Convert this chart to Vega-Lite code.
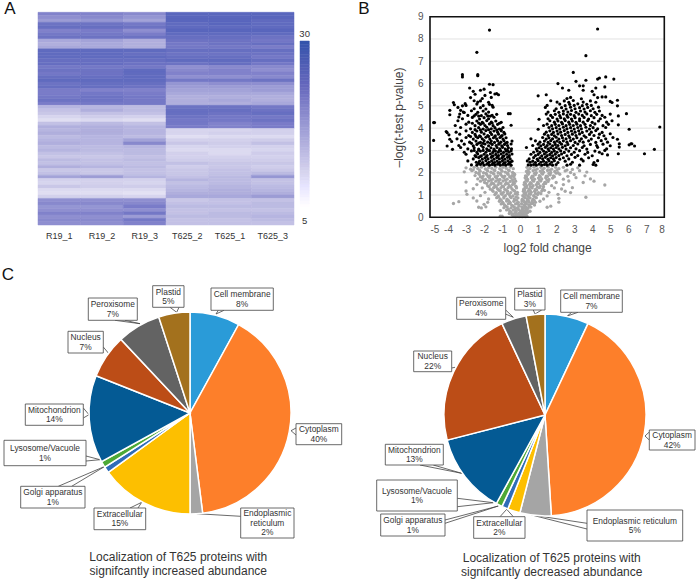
{"$schema":"https://vega.github.io/schema/vega-lite/v6.json","width":696,"height":583,"autosize":"none","padding":0,"background":"white","config":{"view":{"stroke":null},"font":"Liberation Sans"},
"resolve":{"scale":{"x":"independent","y":"independent","color":"independent","stroke":"independent","theta":"independent"},"axis":{"x":"independent","y":"independent"}},
"datasets":{
"heat":[
{"s":"R19_1","r":1,"v":22},{"s":"R19_2","r":1,"v":22},{"s":"R19_3","r":1,"v":21},{"s":"T625_2","r":1,"v":28},{"s":"T625_1","r":1,"v":28},{"s":"T625_3","r":1,"v":28},
{"s":"R19_1","r":2,"v":20},{"s":"R19_2","r":2,"v":21},{"s":"R19_3","r":2,"v":19},{"s":"T625_2","r":2,"v":28},{"s":"T625_1","r":2,"v":28},{"s":"T625_3","r":2,"v":28},
{"s":"R19_1","r":3,"v":18},{"s":"R19_2","r":3,"v":19},{"s":"R19_3","r":3,"v":17},{"s":"T625_2","r":3,"v":28},{"s":"T625_1","r":3,"v":28},{"s":"T625_3","r":3,"v":27},
{"s":"R19_1","r":4,"v":25},{"s":"R19_2","r":4,"v":25},{"s":"R19_3","r":4,"v":24},{"s":"T625_2","r":4,"v":27},{"s":"T625_1","r":4,"v":28},{"s":"T625_3","r":4,"v":27},
{"s":"R19_1","r":5,"v":26},{"s":"R19_2","r":5,"v":26},{"s":"R19_3","r":5,"v":25},{"s":"T625_2","r":5,"v":27},{"s":"T625_1","r":5,"v":27},{"s":"T625_3","r":5,"v":27},
{"s":"R19_1","r":6,"v":22},{"s":"R19_2","r":6,"v":23},{"s":"R19_3","r":6,"v":20},{"s":"T625_2","r":6,"v":28},{"s":"T625_1","r":6,"v":28},{"s":"T625_3","r":6,"v":28},
{"s":"R19_1","r":7,"v":24},{"s":"R19_2","r":7,"v":24},{"s":"R19_3","r":7,"v":23},{"s":"T625_2","r":7,"v":27},{"s":"T625_1","r":7,"v":27},{"s":"T625_3","r":7,"v":27},
{"s":"R19_1","r":8,"v":25},{"s":"R19_2","r":8,"v":25},{"s":"R19_3","r":8,"v":25},{"s":"T625_2","r":8,"v":26},{"s":"T625_1","r":8,"v":26},{"s":"T625_3","r":8,"v":25},
{"s":"R19_1","r":9,"v":16},{"s":"R19_2","r":9,"v":17},{"s":"R19_3","r":9,"v":15},{"s":"T625_2","r":9,"v":25},{"s":"T625_1","r":9,"v":25},{"s":"T625_3","r":9,"v":24},
{"s":"R19_1","r":10,"v":15},{"s":"R19_2","r":10,"v":16},{"s":"R19_3","r":10,"v":15},{"s":"T625_2","r":10,"v":24},{"s":"T625_1","r":10,"v":25},{"s":"T625_3","r":10,"v":26},
{"s":"R19_1","r":11,"v":16},{"s":"R19_2","r":11,"v":16},{"s":"R19_3","r":11,"v":15},{"s":"T625_2","r":11,"v":24},{"s":"T625_1","r":11,"v":24},{"s":"T625_3","r":11,"v":23},
{"s":"R19_1","r":12,"v":27},{"s":"R19_2","r":12,"v":27},{"s":"R19_3","r":12,"v":27},{"s":"T625_2","r":12,"v":26},{"s":"T625_1","r":12,"v":26},{"s":"T625_3","r":12,"v":26},
{"s":"R19_1","r":13,"v":27},{"s":"R19_2","r":13,"v":27},{"s":"R19_3","r":13,"v":26},{"s":"T625_2","r":13,"v":25},{"s":"T625_1","r":13,"v":25},{"s":"T625_3","r":13,"v":25},
{"s":"R19_1","r":14,"v":27},{"s":"R19_2","r":14,"v":27},{"s":"R19_3","r":14,"v":27},{"s":"T625_2","r":14,"v":26},{"s":"T625_1","r":14,"v":26},{"s":"T625_3","r":14,"v":24},
{"s":"R19_1","r":15,"v":26},{"s":"R19_2","r":15,"v":26},{"s":"R19_3","r":15,"v":26},{"s":"T625_2","r":15,"v":27},{"s":"T625_1","r":15,"v":27},{"s":"T625_3","r":15,"v":26},
{"s":"R19_1","r":16,"v":26},{"s":"R19_2","r":16,"v":26},{"s":"R19_3","r":16,"v":25},{"s":"T625_2","r":16,"v":25},{"s":"T625_1","r":16,"v":26},{"s":"T625_3","r":16,"v":24},
{"s":"R19_1","r":17,"v":24},{"s":"R19_2","r":17,"v":24},{"s":"R19_3","r":17,"v":24},{"s":"T625_2","r":17,"v":20},{"s":"T625_1","r":17,"v":21},{"s":"T625_3","r":17,"v":21},
{"s":"R19_1","r":18,"v":25},{"s":"R19_2","r":18,"v":25},{"s":"R19_3","r":18,"v":27},{"s":"T625_2","r":18,"v":21},{"s":"T625_1","r":18,"v":22},{"s":"T625_3","r":18,"v":20},
{"s":"R19_1","r":19,"v":24},{"s":"R19_2","r":19,"v":25},{"s":"R19_3","r":19,"v":27},{"s":"T625_2","r":19,"v":22},{"s":"T625_1","r":19,"v":22},{"s":"T625_3","r":19,"v":22},
{"s":"R19_1","r":20,"v":26},{"s":"R19_2","r":20,"v":26},{"s":"R19_3","r":20,"v":27},{"s":"T625_2","r":20,"v":20},{"s":"T625_1","r":20,"v":20},{"s":"T625_3","r":20,"v":21},
{"s":"R19_1","r":21,"v":27},{"s":"R19_2","r":21,"v":27},{"s":"R19_3","r":21,"v":27},{"s":"T625_2","r":21,"v":24},{"s":"T625_1","r":21,"v":24},{"s":"T625_3","r":21,"v":25},
{"s":"R19_1","r":22,"v":25},{"s":"R19_2","r":22,"v":26},{"s":"R19_3","r":22,"v":26},{"s":"T625_2","r":22,"v":19},{"s":"T625_1","r":22,"v":20},{"s":"T625_3","r":22,"v":20},
{"s":"R19_1","r":23,"v":26},{"s":"R19_2","r":23,"v":26},{"s":"R19_3","r":23,"v":25},{"s":"T625_2","r":23,"v":18},{"s":"T625_1","r":23,"v":18},{"s":"T625_3","r":23,"v":18},
{"s":"R19_1","r":24,"v":23},{"s":"R19_2","r":24,"v":22},{"s":"R19_3","r":24,"v":22},{"s":"T625_2","r":24,"v":17},{"s":"T625_1","r":24,"v":17},{"s":"T625_3","r":24,"v":18},
{"s":"R19_1","r":25,"v":23},{"s":"R19_2","r":25,"v":24},{"s":"R19_3","r":25,"v":23},{"s":"T625_2","r":25,"v":16},{"s":"T625_1","r":25,"v":16},{"s":"T625_3","r":25,"v":16},
{"s":"R19_1","r":26,"v":24},{"s":"R19_2","r":26,"v":25},{"s":"R19_3","r":26,"v":24},{"s":"T625_2","r":26,"v":15},{"s":"T625_1","r":26,"v":15},{"s":"T625_3","r":26,"v":15},
{"s":"R19_1","r":27,"v":25},{"s":"R19_2","r":27,"v":25},{"s":"R19_3","r":27,"v":24},{"s":"T625_2","r":27,"v":15},{"s":"T625_1","r":27,"v":16},{"s":"T625_3","r":27,"v":15},
{"s":"R19_1","r":28,"v":23},{"s":"R19_2","r":28,"v":24},{"s":"R19_3","r":28,"v":24},{"s":"T625_2","r":28,"v":15},{"s":"T625_1","r":28,"v":15},{"s":"T625_3","r":28,"v":16},
{"s":"R19_1","r":29,"v":14},{"s":"R19_2","r":29,"v":14},{"s":"R19_3","r":29,"v":13},{"s":"T625_2","r":29,"v":25},{"s":"T625_1","r":29,"v":25},{"s":"T625_3","r":29,"v":24},
{"s":"R19_1","r":30,"v":12},{"s":"R19_2","r":30,"v":15},{"s":"R19_3","r":30,"v":13},{"s":"T625_2","r":30,"v":26},{"s":"T625_1","r":30,"v":26},{"s":"T625_3","r":30,"v":25},
{"s":"R19_1","r":31,"v":11},{"s":"R19_2","r":31,"v":12},{"s":"R19_3","r":31,"v":12},{"s":"T625_2","r":31,"v":26},{"s":"T625_1","r":31,"v":25},{"s":"T625_3","r":31,"v":26},
{"s":"R19_1","r":32,"v":8},{"s":"R19_2","r":32,"v":10},{"s":"R19_3","r":32,"v":9},{"s":"T625_2","r":32,"v":25},{"s":"T625_1","r":32,"v":24},{"s":"T625_3","r":32,"v":24},
{"s":"R19_1","r":33,"v":6},{"s":"R19_2","r":33,"v":7},{"s":"R19_3","r":33,"v":6},{"s":"T625_2","r":33,"v":24},{"s":"T625_1","r":33,"v":24},{"s":"T625_3","r":33,"v":25},
{"s":"R19_1","r":34,"v":12},{"s":"R19_2","r":34,"v":13},{"s":"R19_3","r":34,"v":12},{"s":"T625_2","r":34,"v":24},{"s":"T625_1","r":34,"v":22},{"s":"T625_3","r":34,"v":23},
{"s":"R19_1","r":35,"v":15},{"s":"R19_2","r":35,"v":15},{"s":"R19_3","r":35,"v":14},{"s":"T625_2","r":35,"v":23},{"s":"T625_1","r":35,"v":22},{"s":"T625_3","r":35,"v":23},
{"s":"R19_1","r":36,"v":14},{"s":"R19_2","r":36,"v":15},{"s":"R19_3","r":36,"v":14},{"s":"T625_2","r":36,"v":8},{"s":"T625_1","r":36,"v":8},{"s":"T625_3","r":36,"v":9},
{"s":"R19_1","r":37,"v":15},{"s":"R19_2","r":37,"v":15},{"s":"R19_3","r":37,"v":14},{"s":"T625_2","r":37,"v":8},{"s":"T625_1","r":37,"v":9},{"s":"T625_3","r":37,"v":9},
{"s":"R19_1","r":38,"v":13},{"s":"R19_2","r":38,"v":14},{"s":"R19_3","r":38,"v":13},{"s":"T625_2","r":38,"v":6},{"s":"T625_1","r":38,"v":7},{"s":"T625_3","r":38,"v":7},
{"s":"R19_1","r":39,"v":14},{"s":"R19_2","r":39,"v":14},{"s":"R19_3","r":39,"v":17},{"s":"T625_2","r":39,"v":9},{"s":"T625_1","r":39,"v":9},{"s":"T625_3","r":39,"v":10},
{"s":"R19_1","r":40,"v":15},{"s":"R19_2","r":40,"v":14},{"s":"R19_3","r":40,"v":21},{"s":"T625_2","r":40,"v":11},{"s":"T625_1","r":40,"v":10},{"s":"T625_3","r":40,"v":12},
{"s":"R19_1","r":41,"v":13},{"s":"R19_2","r":41,"v":13},{"s":"R19_3","r":41,"v":14},{"s":"T625_2","r":41,"v":8},{"s":"T625_1","r":41,"v":9},{"s":"T625_3","r":41,"v":9},
{"s":"R19_1","r":42,"v":14},{"s":"R19_2","r":42,"v":13},{"s":"R19_3","r":42,"v":13},{"s":"T625_2","r":42,"v":7},{"s":"T625_1","r":42,"v":7},{"s":"T625_3","r":42,"v":8},
{"s":"R19_1","r":43,"v":12},{"s":"R19_2","r":43,"v":12},{"s":"R19_3","r":43,"v":13},{"s":"T625_2","r":43,"v":9},{"s":"T625_1","r":43,"v":7},{"s":"T625_3","r":43,"v":10},
{"s":"R19_1","r":44,"v":11},{"s":"R19_2","r":44,"v":11},{"s":"R19_3","r":44,"v":12},{"s":"T625_2","r":44,"v":9},{"s":"T625_1","r":44,"v":9},{"s":"T625_3","r":44,"v":9},
{"s":"R19_1","r":45,"v":13},{"s":"R19_2","r":45,"v":12},{"s":"R19_3","r":45,"v":13},{"s":"T625_2","r":45,"v":10},{"s":"T625_1","r":45,"v":10},{"s":"T625_3","r":45,"v":10},
{"s":"R19_1","r":46,"v":12},{"s":"R19_2","r":46,"v":12},{"s":"R19_3","r":46,"v":12},{"s":"T625_2","r":46,"v":12},{"s":"T625_1","r":46,"v":11},{"s":"T625_3","r":46,"v":11},
{"s":"R19_1","r":47,"v":15},{"s":"R19_2","r":47,"v":14},{"s":"R19_3","r":47,"v":13},{"s":"T625_2","r":47,"v":10},{"s":"T625_1","r":47,"v":11},{"s":"T625_3","r":47,"v":10},
{"s":"R19_1","r":48,"v":11},{"s":"R19_2","r":48,"v":11},{"s":"R19_3","r":48,"v":12},{"s":"T625_2","r":48,"v":11},{"s":"T625_1","r":48,"v":12},{"s":"T625_3","r":48,"v":11},
{"s":"R19_1","r":49,"v":12},{"s":"R19_2","r":49,"v":11},{"s":"R19_3","r":49,"v":12},{"s":"T625_2","r":49,"v":11},{"s":"T625_1","r":49,"v":12},{"s":"T625_3","r":49,"v":13},
{"s":"R19_1","r":50,"v":17},{"s":"R19_2","r":50,"v":18},{"s":"R19_3","r":50,"v":14},{"s":"T625_2","r":50,"v":12},{"s":"T625_1","r":50,"v":13},{"s":"T625_3","r":50,"v":19},
{"s":"R19_1","r":51,"v":9},{"s":"R19_2","r":51,"v":9},{"s":"R19_3","r":51,"v":9},{"s":"T625_2","r":51,"v":14},{"s":"T625_1","r":51,"v":13},{"s":"T625_3","r":51,"v":12},
{"s":"R19_1","r":52,"v":8},{"s":"R19_2","r":52,"v":9},{"s":"R19_3","r":52,"v":8},{"s":"T625_2","r":52,"v":12},{"s":"T625_1","r":52,"v":13},{"s":"T625_3","r":52,"v":12},
{"s":"R19_1","r":53,"v":11},{"s":"R19_2","r":53,"v":10},{"s":"R19_3","r":53,"v":10},{"s":"T625_2","r":53,"v":13},{"s":"T625_1","r":53,"v":14},{"s":"T625_3","r":53,"v":13},
{"s":"R19_1","r":54,"v":7},{"s":"R19_2","r":54,"v":7},{"s":"R19_3","r":54,"v":7},{"s":"T625_2","r":54,"v":14},{"s":"T625_1","r":54,"v":15},{"s":"T625_3","r":54,"v":14},
{"s":"R19_1","r":55,"v":6},{"s":"R19_2","r":55,"v":6},{"s":"R19_3","r":55,"v":5},{"s":"T625_2","r":55,"v":15},{"s":"T625_1","r":55,"v":15},{"s":"T625_3","r":55,"v":15},
{"s":"R19_1","r":56,"v":9},{"s":"R19_2","r":56,"v":9},{"s":"R19_3","r":56,"v":8},{"s":"T625_2","r":56,"v":16},{"s":"T625_1","r":56,"v":16},{"s":"T625_3","r":56,"v":18},
{"s":"R19_1","r":57,"v":20},{"s":"R19_2","r":57,"v":20},{"s":"R19_3","r":57,"v":20},{"s":"T625_2","r":57,"v":11},{"s":"T625_1","r":57,"v":12},{"s":"T625_3","r":57,"v":12},
{"s":"R19_1","r":58,"v":21},{"s":"R19_2","r":58,"v":21},{"s":"R19_3","r":58,"v":21},{"s":"T625_2","r":58,"v":12},{"s":"T625_1","r":58,"v":12},{"s":"T625_3","r":58,"v":13},
{"s":"R19_1","r":59,"v":19},{"s":"R19_2","r":59,"v":19},{"s":"R19_3","r":59,"v":23},{"s":"T625_2","r":59,"v":13},{"s":"T625_1","r":59,"v":13},{"s":"T625_3","r":59,"v":13},
{"s":"R19_1","r":60,"v":20},{"s":"R19_2","r":60,"v":20},{"s":"R19_3","r":60,"v":20},{"s":"T625_2","r":60,"v":12},{"s":"T625_1","r":60,"v":12},{"s":"T625_3","r":60,"v":12},
{"s":"R19_1","r":61,"v":22},{"s":"R19_2","r":61,"v":22},{"s":"R19_3","r":61,"v":24},{"s":"T625_2","r":61,"v":12},{"s":"T625_1","r":61,"v":13},{"s":"T625_3","r":61,"v":13},
{"s":"R19_1","r":62,"v":20},{"s":"R19_2","r":62,"v":20},{"s":"R19_3","r":62,"v":18},{"s":"T625_2","r":62,"v":13},{"s":"T625_1","r":62,"v":13},{"s":"T625_3","r":62,"v":14},
{"s":"R19_1","r":63,"v":21},{"s":"R19_2","r":63,"v":21},{"s":"R19_3","r":63,"v":24},{"s":"T625_2","r":63,"v":12},{"s":"T625_1","r":63,"v":12},{"s":"T625_3","r":63,"v":13},
{"s":"R19_1","r":64,"v":20},{"s":"R19_2","r":64,"v":20},{"s":"R19_3","r":64,"v":22},{"s":"T625_2","r":64,"v":12},{"s":"T625_1","r":64,"v":12},{"s":"T625_3","r":64,"v":12}
],
"bar":[{"v":5,"w":5.5},{"v":5.5,"w":6},{"v":6,"w":6.5},{"v":6.5,"w":7},{"v":7,"w":7.5},{"v":7.5,"w":8},{"v":8,"w":8.5},{"v":8.5,"w":9},{"v":9,"w":9.5},{"v":9.5,"w":10},{"v":10,"w":10.5},{"v":10.5,"w":11},{"v":11,"w":11.5},{"v":11.5,"w":12},{"v":12,"w":12.5},{"v":12.5,"w":13},{"v":13,"w":13.5},{"v":13.5,"w":14},{"v":14,"w":14.5},{"v":14.5,"w":15},{"v":15,"w":15.5},{"v":15.5,"w":16},{"v":16,"w":16.5},{"v":16.5,"w":17},{"v":17,"w":17.5},{"v":17.5,"w":18},{"v":18,"w":18.5},{"v":18.5,"w":19},{"v":19,"w":19.5},{"v":19.5,"w":20},{"v":20,"w":20.5},{"v":20.5,"w":21},{"v":21,"w":21.5},{"v":21.5,"w":22},{"v":22,"w":22.5},{"v":22.5,"w":23},{"v":23,"w":23.5},{"v":23.5,"w":24},{"v":24,"w":24.5},{"v":24.5,"w":25},{"v":25,"w":25.5},{"v":25.5,"w":26},{"v":26,"w":26.5},{"v":26.5,"w":27},{"v":27,"w":27.5},{"v":27.5,"w":28},{"v":28,"w":28.5},{"v":28.5,"w":29},{"v":29,"w":29.5},{"v":29.5,"w":30}],
"up":[{"n":"Cell membrane","p":8,"o":1},{"n":"Cytoplasm","p":40,"o":2},{"n":"Endoplasmic reticulum","p":2,"o":3},{"n":"Extracellular","p":15,"o":4},{"n":"Golgi apparatus","p":1,"o":5},{"n":"Lysosome/Vacuole","p":1,"o":6},{"n":"Mitochondrion","p":14,"o":7},{"n":"Nucleus","p":7,"o":8},{"n":"Peroxisome","p":7,"o":9},{"n":"Plastid","p":5,"o":10}],
"down":[{"n":"Cell membrane","p":7,"o":1},{"n":"Cytoplasm","p":42,"o":2},{"n":"Endoplasmic reticulum","p":5,"o":3},{"n":"Extracellular","p":2,"o":4},{"n":"Golgi apparatus","p":1,"o":5},{"n":"Lysosome/Vacuole","p":1,"o":6},{"n":"Mitochondrion","p":13,"o":7},{"n":"Nucleus","p":22,"o":8},{"n":"Peroxisome","p":4,"o":9},{"n":"Plastid","p":3,"o":10}],
"upBox":[{"t":"Cell membrane\n8%","a":0.21,"b":0.833,"c":1.25,"d":1.027},{"t":"Cytoplasm\n40%","a":1.06,"b":1.517,"c":-0.107,"d":-0.317},{"t":"Endoplasmic\nreticulum\n2%","a":0.507,"b":1.04,"c":-0.95,"d":-1.25},{"t":"Extracellular\n15%","a":-0.96,"b":-0.443,"c":-0.95,"d":-1.167},{"t":"Golgi apparatus\n1%","a":-1.693,"b":-1.05,"c":-0.733,"d":-0.95},{"t":"Lysosome/Vacuole\n1%","a":-1.86,"b":-1.04,"c":-0.273,"d":-0.527},{"t":"Mitochondrion\n14%","a":-1.647,"b":-1.067,"c":0.09,"d":-0.123},{"t":"Nucleus\n7%","a":-1.22,"b":-0.867,"c":0.817,"d":0.6},{"t":"Peroxisome\n7%","a":-1.017,"b":-0.527,"c":1.15,"d":0.927},{"t":"Plastid\n5%","a":-0.373,"b":-0.06,"c":1.273,"d":1.057}],
"downBox":[{"t":"Cell membrane\n7%","a":0.157,"b":0.773,"c":1.25,"d":1.027},{"t":"Cytoplasm\n42%","a":1.043,"b":1.5,"c":-0.15,"d":-0.35},{"t":"Endoplasmic reticulum\n5%","a":0.42,"b":1.377,"c":-0.95,"d":-1.26},{"t":"Extracellular\n2%","a":-0.713,"b":-0.2,"c":-1.017,"d":-1.233},{"t":"Golgi apparatus\n1%","a":-1.643,"b":-1.0,"c":-0.99,"d":-1.21},{"t":"Lysosome/Vacuole\n1%","a":-1.683,"b":-0.877,"c":-0.65,"d":-0.96},{"t":"Mitochondrion\n13%","a":-1.597,"b":-1.017,"c":-0.293,"d":-0.5},{"t":"Nucleus\n22%","a":-1.313,"b":-0.933,"c":0.64,"d":0.433},{"t":"Peroxisome\n4%","a":-0.883,"b":-0.393,"c":1.177,"d":0.957},{"t":"Plastid\n3%","a":-0.303,"b":0,"c":1.267,"d":1.05}],
"upLead":[{"a":0.283,"c":1.027,"b":0.26,"d":0.99},{"a":0.34,"c":1.027,"b":0.26,"d":0.99},{"a":1.06,"c":-0.15,"b":1.01,"d":-0.177},{"a":1.06,"c":-0.22,"b":1.01,"d":-0.177},{"a":0.507,"c":-1.033,"b":0.067,"d":-1.007},{"a":-0.52,"c":-0.95,"b":-0.483,"d":-0.893},{"a":-0.6,"c":-0.95,"b":-0.483,"d":-0.893},{"a":-1.317,"c":-0.733,"b":-0.85,"d":-0.533},{"a":-1.183,"c":-0.733,"b":-0.85,"d":-0.533},{"a":-1.04,"c":-0.48,"b":-0.9,"d":-0.467},{"a":-1.04,"c":-0.43,"b":-0.9,"d":-0.467},{"a":-1.067,"c":0.05,"b":-1.01,"d":-0.017},{"a":-1.067,"c":-0.05,"b":-1.01,"d":-0.017},{"a":-0.867,"c":0.66,"b":-0.817,"d":0.6},{"a":-0.75,"c":0.927,"b":-0.5,"d":0.893},{"a":-0.65,"c":0.927,"b":-0.5,"d":0.893},{"a":-0.2,"c":1.057,"b":-0.133,"d":1.007},{"a":-0.11,"c":1.057,"b":-0.133,"d":1.007}],
"downLead":[{"a":0.267,"c":1.027,"b":0.223,"d":0.99},{"a":0.33,"c":1.027,"b":0.223,"d":0.99},{"a":1.043,"c":-0.17,"b":1.0,"d":-0.21},{"a":1.043,"c":-0.25,"b":1.0,"d":-0.21},{"a":0.42,"c":-1.083,"b":-0.133,"d":-1.0},{"a":0.42,"c":-1.14,"b":-0.133,"d":-1.0},{"a":-0.45,"c":-1.017,"b":-0.383,"d":-0.943},{"a":-0.317,"c":-1.017,"b":-0.383,"d":-0.943},{"a":-1.0,"c":-1.05,"b":-0.467,"d":-0.91},{"a":-1.0,"c":-1.083,"b":-0.467,"d":-0.91},{"a":-0.877,"c":-0.833,"b":-0.517,"d":-0.877},{"a":-0.877,"c":-0.917,"b":-0.517,"d":-0.877},{"a":-1.117,"c":-0.5,"b":-0.833,"d":-0.583},{"a":-1.25,"c":-0.5,"b":-0.833,"d":-0.583},{"a":-0.933,"c":0.47,"b":-0.9,"d":0.477},{"a":-0.49,"c":1.05,"b":-0.317,"d":0.977},{"a":-0.393,"c":1.05,"b":-0.317,"d":0.977},{"a":-0.117,"c":1.05,"b":-0.1,"d":1.01},{"a":-0.033,"c":1.05,"b":-0.1,"d":1.01}],
"gray":[{"x":-2.6,"y":2.13},{"x":-2.25,"y":2.12},{"x":-1.85,"y":2.13},{"x":-1.45,"y":2.12},{"x":-1.05,"y":2.13},{"x":-0.65,"y":2.12},{"x":0.45,"y":2.13},{"x":0.85,"y":2.12},{"x":1.25,"y":2.13},{"x":1.65,"y":2.12},{"x":2.05,"y":2.13},{"x":2.6,"y":2.12},{"x":-2.3,"y":1.98},{"x":-1.9,"y":1.97},{"x":-1.5,"y":1.98},{"x":-1.1,"y":1.97},{"x":-0.7,"y":1.98},{"x":-0.35,"y":1.97},{"x":0.42,"y":1.98},{"x":0.8,"y":1.97},{"x":1.2,"y":1.98},{"x":1.6,"y":1.97},{"x":2,"y":1.98},{"x":-2.2,"y":1.82},{"x":-1.78,"y":1.83},{"x":-1.38,"y":1.82},{"x":-0.98,"y":1.83},{"x":-0.58,"y":1.82},{"x":-0.35,"y":1.83},{"x":0.36,"y":1.82},{"x":0.72,"y":1.83},{"x":1.12,"y":1.82},{"x":1.52,"y":1.83},{"x":1.9,"y":1.82},{"x":-2.05,"y":1.68},{"x":-1.62,"y":1.67},{"x":-1.22,"y":1.68},{"x":-0.82,"y":1.67},{"x":-0.42,"y":1.68},{"x":0.33,"y":1.67},{"x":0.68,"y":1.68},{"x":1.08,"y":1.67},{"x":1.48,"y":1.68},{"x":-1.85,"y":1.52},{"x":-1.47,"y":1.51},{"x":-1.07,"y":1.52},{"x":-0.67,"y":1.51},{"x":-0.32,"y":1.52},{"x":0.3,"y":1.51},{"x":0.62,"y":1.52},{"x":1.02,"y":1.51},{"x":1.42,"y":1.52},{"x":-1.72,"y":1.37},{"x":-1.32,"y":1.36},{"x":-0.92,"y":1.37},{"x":-0.52,"y":1.36},{"x":-0.22,"y":1.37},{"x":0.28,"y":1.36},{"x":0.58,"y":1.37},{"x":0.95,"y":1.36},{"x":1.3,"y":1.37},{"x":-1.55,"y":1.22},{"x":-1.17,"y":1.21},{"x":-0.77,"y":1.22},{"x":-0.37,"y":1.21},{"x":0.25,"y":1.22},{"x":0.55,"y":1.21},{"x":0.92,"y":1.22},{"x":1.35,"y":1.21},{"x":-1.35,"y":1.07},{"x":-1.05,"y":1.06},{"x":-0.7,"y":1.07},{"x":-0.27,"y":1.06},{"x":0.23,"y":1.07},{"x":0.5,"y":1.06},{"x":0.85,"y":1.07},{"x":1.15,"y":1.06},{"x":-1.2,"y":0.93},{"x":-0.9,"y":0.92},{"x":-0.55,"y":0.93},{"x":-0.22,"y":0.92},{"x":0.2,"y":0.93},{"x":0.48,"y":0.92},{"x":0.8,"y":0.93},{"x":-1.05,"y":0.77},{"x":-0.65,"y":0.76},{"x":-0.2,"y":0.77},{"x":0.18,"y":0.76},{"x":0.45,"y":0.77},{"x":0.78,"y":0.76},{"x":-0.95,"y":0.63},{"x":-0.55,"y":0.64},{"x":-0.15,"y":0.63},{"x":0.3,"y":0.64},{"x":0.7,"y":0.63},{"x":-0.8,"y":0.5},{"x":-0.4,"y":0.51},{"x":-0.05,"y":0.5},{"x":0.25,"y":0.51},{"x":0.52,"y":0.5},{"x":-0.65,"y":0.37},{"x":-0.28,"y":0.38},{"x":-0.12,"y":0.37},{"x":0.12,"y":0.38},{"x":0.35,"y":0.37},{"x":-0.5,"y":0.22},{"x":-0.25,"y":0.23},{"x":0,"y":0.22},{"x":0.2,"y":0.23},{"x":0.42,"y":0.22},{"x":-0.45,"y":0.1},{"x":-0.2,"y":0.11},{"x":0,"y":0.1},{"x":0.1,"y":0.11},{"x":0.3,"y":0.1},
{"x":-3,"y":2.22},{"x":-2.75,"y":2.16},{"x":-2.55,"y":2.24},{"x":-2.35,"y":2.19},{"x":-2.15,"y":2.25},{"x":-1.93,"y":2.17},{"x":-1.75,"y":2.23},{"x":-1.57,"y":2.2},{"x":-1.35,"y":2.25},{"x":-1.13,"y":2.18},{"x":-0.95,"y":2.24},{"x":-0.77,"y":2.2},{"x":-0.55,"y":2.25},{"x":-0.38,"y":2.18},{"x":0.38,"y":2.24},{"x":0.55,"y":2.19},{"x":0.77,"y":2.25},{"x":0.95,"y":2.17},{"x":1.15,"y":2.24},{"x":1.33,"y":2.2},{"x":1.55,"y":2.25},{"x":1.75,"y":2.16},{"x":1.97,"y":2.24},{"x":2.15,"y":2.18},{"x":2.4,"y":2.24},{"x":2.9,"y":2.15},{"x":3.2,"y":2.22},
{"x":-3.1,"y":2.04},{"x":-2.68,"y":2.09},{"x":-2.45,"y":2.01},{"x":-2.22,"y":2.07},{"x":-2.03,"y":2},{"x":-1.8,"y":2.08},{"x":-1.62,"y":2.02},{"x":-1.4,"y":2.1},{"x":-1.22,"y":2},{"x":-1,"y":2.07},{"x":-0.82,"y":2.03},{"x":-0.6,"y":2.09},{"x":-0.42,"y":2.01},{"x":0.35,"y":2.06},{"x":0.5,"y":2.02},{"x":0.72,"y":2.09},{"x":0.9,"y":2},{"x":1.12,"y":2.07},{"x":1.3,"y":2.02},{"x":1.52,"y":2.1},{"x":1.7,"y":2.01},{"x":1.92,"y":2.06},{"x":2.1,"y":2},{"x":2.5,"y":2.08},{"x":2.8,"y":2.01},{"x":3.3,"y":2.09},{"x":3.7,"y":2.03},
{"x":-2.5,"y":1.87},{"x":-2.27,"y":1.93},{"x":-2.05,"y":1.85},{"x":-1.85,"y":1.92},{"x":-1.67,"y":1.86},{"x":-1.45,"y":1.94},{"x":-1.25,"y":1.86},{"x":-1.07,"y":1.91},{"x":-0.85,"y":1.85},{"x":-0.67,"y":1.93},{"x":-0.45,"y":1.87},{"x":-0.3,"y":1.92},{"x":0.3,"y":1.86},{"x":0.45,"y":1.93},{"x":0.67,"y":1.85},{"x":0.85,"y":1.92},{"x":1.07,"y":1.87},{"x":1.25,"y":1.94},{"x":1.45,"y":1.85},{"x":1.67,"y":1.91},{"x":1.85,"y":1.86},{"x":2.2,"y":1.93},{"x":2.65,"y":1.84},{"x":3,"y":1.92},{"x":3.6,"y":1.86},
{"x":-2.35,"y":1.72},{"x":-2.1,"y":1.77},{"x":-1.92,"y":1.7},{"x":-1.7,"y":1.78},{"x":-1.52,"y":1.71},{"x":-1.3,"y":1.76},{"x":-1.12,"y":1.7},{"x":-0.9,"y":1.78},{"x":-0.72,"y":1.71},{"x":-0.5,"y":1.77},{"x":-0.3,"y":1.72},{"x":0.28,"y":1.77},{"x":0.42,"y":1.7},{"x":0.62,"y":1.78},{"x":0.8,"y":1.71},{"x":1.02,"y":1.76},{"x":1.2,"y":1.72},{"x":1.42,"y":1.78},{"x":1.6,"y":1.7},{"x":1.8,"y":1.76},{"x":2.4,"y":1.71},{"x":3.1,"y":1.78},{"x":3.9,"y":1.72},
{"x":-3,"y":1.58},{"x":-2.2,"y":1.62},{"x":-1.97,"y":1.56},{"x":-1.75,"y":1.63},{"x":-1.57,"y":1.55},{"x":-1.35,"y":1.62},{"x":-1.17,"y":1.57},{"x":-0.95,"y":1.63},{"x":-0.77,"y":1.55},{"x":-0.55,"y":1.61},{"x":-0.38,"y":1.56},{"x":-0.25,"y":1.62},{"x":0.25,"y":1.57},{"x":0.4,"y":1.63},{"x":0.57,"y":1.55},{"x":0.75,"y":1.62},{"x":0.97,"y":1.56},{"x":1.15,"y":1.63},{"x":1.37,"y":1.57},{"x":1.55,"y":1.61},{"x":2,"y":1.56},{"x":2.7,"y":1.63},{"x":3.5,"y":1.56},{"x":4.1,"y":1.62},
{"x":-2.4,"y":1.47},{"x":-1.8,"y":1.41},{"x":-1.62,"y":1.48},{"x":-1.4,"y":1.42},{"x":-1.22,"y":1.47},{"x":-1,"y":1.4},{"x":-0.82,"y":1.48},{"x":-0.6,"y":1.42},{"x":-0.42,"y":1.47},{"x":-0.25,"y":1.4},{"x":0.22,"y":1.47},{"x":0.38,"y":1.41},{"x":0.52,"y":1.48},{"x":0.72,"y":1.42},{"x":0.9,"y":1.47},{"x":1.12,"y":1.4},{"x":1.3,"y":1.48},{"x":1.75,"y":1.42},{"x":2.4,"y":1.47},{"x":4.7,"y":1.45},
{"x":-2.6,"y":1.28},{"x":-2.1,"y":1.32},{"x":-1.65,"y":1.26},{"x":-1.47,"y":1.33},{"x":-1.25,"y":1.27},{"x":-1.07,"y":1.32},{"x":-0.85,"y":1.25},{"x":-0.67,"y":1.33},{"x":-0.45,"y":1.27},{"x":-0.2,"y":1.32},{"x":0.2,"y":1.26},{"x":0.35,"y":1.33},{"x":0.5,"y":1.27},{"x":0.67,"y":1.32},{"x":0.85,"y":1.25},{"x":1.07,"y":1.33},{"x":1.25,"y":1.27},{"x":1.9,"y":1.32},{"x":2.3,"y":1.27},{"x":2.9,"y":1.33},
{"x":-3,"y":1.18},{"x":-1.95,"y":1.12},{"x":-1.5,"y":1.17},{"x":-1.32,"y":1.11},{"x":-1.1,"y":1.18},{"x":-0.92,"y":1.12},{"x":-0.7,"y":1.17},{"x":-0.52,"y":1.11},{"x":-0.3,"y":1.18},{"x":-0.15,"y":1.12},{"x":0.18,"y":1.17},{"x":0.32,"y":1.11},{"x":0.45,"y":1.18},{"x":0.62,"y":1.12},{"x":0.8,"y":1.17},{"x":1.02,"y":1.11},{"x":1.2,"y":1.18},{"x":1.6,"y":1.12},{"x":2.5,"y":1.17},{"x":2.8,"y":1.11},
{"x":-2.95,"y":1.03},{"x":-2.2,"y":0.97},{"x":-1.4,"y":1.02},{"x":-1.22,"y":0.96},{"x":-1,"y":1.03},{"x":-0.82,"y":0.97},{"x":-0.6,"y":1.02},{"x":-0.4,"y":0.96},{"x":-0.15,"y":1.03},{"x":0.15,"y":0.97},{"x":0.3,"y":1.02},{"x":0.42,"y":0.96},{"x":0.57,"y":1.03},{"x":0.75,"y":0.97},{"x":0.97,"y":1.02},{"x":1.5,"y":0.96},{"x":2.1,"y":1.03},
{"x":-2.6,"y":0.87},{"x":-1.75,"y":0.82},{"x":-1.3,"y":0.88},{"x":-1.12,"y":0.82},{"x":-0.9,"y":0.87},{"x":-0.72,"y":0.81},{"x":-0.5,"y":0.88},{"x":-0.32,"y":0.82},{"x":-0.12,"y":0.87},{"x":0.12,"y":0.81},{"x":0.28,"y":0.88},{"x":0.4,"y":0.82},{"x":0.55,"y":0.87},{"x":0.72,"y":0.81},{"x":0.9,"y":0.88},{"x":1.3,"y":0.82},{"x":3.65,"y":0.9},{"x":2.15,"y":0.85},
{"x":-3.4,"y":0.7},{"x":-2.4,"y":0.73},{"x":-1.8,"y":0.67},{"x":-1.15,"y":0.72},{"x":-0.97,"y":0.67},{"x":-0.75,"y":0.73},{"x":-0.57,"y":0.68},{"x":-0.35,"y":0.72},{"x":-0.1,"y":0.67},{"x":0.1,"y":0.73},{"x":0.25,"y":0.67},{"x":0.38,"y":0.72},{"x":0.5,"y":0.68},{"x":0.67,"y":0.73},{"x":0.85,"y":0.67},{"x":1.1,"y":0.72},{"x":2.15,"y":0.68},
{"x":-3.7,"y":0.62},{"x":-2,"y":0.58},{"x":-1.05,"y":0.6},{"x":-0.87,"y":0.56},{"x":-0.65,"y":0.61},{"x":-0.47,"y":0.55},{"x":-0.25,"y":0.6},{"x":-0.08,"y":0.56},{"x":0.08,"y":0.61},{"x":0.22,"y":0.55},{"x":0.35,"y":0.6},{"x":0.48,"y":0.56},{"x":0.62,"y":0.61},{"x":0.8,"y":0.55},
{"x":-2.3,"y":0.45},{"x":-2.15,"y":0.42},{"x":-1.9,"y":0.47},{"x":-0.9,"y":0.43},{"x":-0.72,"y":0.47},{"x":-0.5,"y":0.42},{"x":-0.32,"y":0.46},{"x":-0.15,"y":0.42},{"x":0.1,"y":0.47},{"x":0.2,"y":0.41},{"x":0.32,"y":0.46},{"x":0.45,"y":0.42},{"x":0.6,"y":0.46},{"x":1.5,"y":0.45},{"x":1.7,"y":0.5},
{"x":-1.1,"y":0.3},{"x":-0.75,"y":0.33},{"x":-0.57,"y":0.27},{"x":-0.38,"y":0.32},{"x":-0.22,"y":0.27},{"x":-0.06,"y":0.33},{"x":0.06,"y":0.27},{"x":0.18,"y":0.32},{"x":0.28,"y":0.27},{"x":0.4,"y":0.33},{"x":0.55,"y":0.27},
{"x":-0.6,"y":0.17},{"x":-0.42,"y":0.13},{"x":-0.3,"y":0.18},{"x":-0.18,"y":0.12},{"x":-0.08,"y":0.17},{"x":0.05,"y":0.13},{"x":0.15,"y":0.18},{"x":0.25,"y":0.12},{"x":0.35,"y":0.17},
{"x":-1.1,"y":0.05},{"x":-1,"y":0.05},{"x":-0.35,"y":0.05},{"x":-0.25,"y":0.03},{"x":-0.15,"y":0.06},{"x":-0.05,"y":0.03},{"x":0.03,"y":0.06},{"x":0.12,"y":0.03},{"x":0.2,"y":0.06},{"x":0.3,"y":0.03},{"x":0.38,"y":0.05}],
"black":[{"x":-2.3,"y":2.42},{"x":-2.1,"y":2.43},{"x":-1.8,"y":2.42},{"x":-1.5,"y":2.43},{"x":-1.2,"y":2.42},{"x":-0.9,"y":2.43},{"x":-0.6,"y":2.42},{"x":-2.45,"y":2.72},{"x":-2.2,"y":2.73},{"x":-1.87,"y":2.72},{"x":-1.55,"y":2.73},{"x":-1.25,"y":2.72},{"x":-0.95,"y":2.73},{"x":-0.62,"y":2.72},{"x":-2.55,"y":3},{"x":-2.3,"y":3.01},{"x":-2.05,"y":3},{"x":-1.8,"y":3.01},{"x":-1.45,"y":3},{"x":-1.15,"y":3.01},{"x":-0.7,"y":3},{"x":-2.7,"y":3.32},{"x":-2.3,"y":3.33},{"x":-2.05,"y":3.32},{"x":-1.65,"y":3.33},{"x":-1.15,"y":3.32},{"x":-0.8,"y":3.33},{"x":-2.75,"y":3.62},{"x":-2.45,"y":3.63},{"x":-2.2,"y":3.62},{"x":-1.75,"y":3.63},{"x":-1.4,"y":3.62},{"x":-1.05,"y":3.63},{"x":-2.5,"y":3.93},{"x":-2.2,"y":3.92},{"x":-1.75,"y":3.93},{"x":-1.3,"y":3.92},{"x":-1.05,"y":3.93},{"x":-2.65,"y":4.22},{"x":-2.3,"y":4.23},{"x":-2.05,"y":4.22},{"x":-1.55,"y":4.23},{"x":-1.15,"y":4.22},{"x":-2.55,"y":4.55},{"x":-2.3,"y":4.54},{"x":-1.8,"y":4.55},{"x":-1.65,"y":4.54},
{"x":-1.7,"y":8.4},{"x":-2.4,"y":7.4},{"x":-3.2,"y":6.4},{"x":-3.2,"y":6.3},{"x":-2.35,"y":6.4},{"x":-2.35,"y":6.35},{"x":-1.7,"y":5.97},{"x":-1.5,"y":5.95},{"x":-2.8,"y":5.8},{"x":-2,"y":5.75},{"x":-2.6,"y":5.65},{"x":-2.2,"y":5.7},{"x":-1.65,"y":5.6},{"x":-1.3,"y":5.55},{"x":-1.2,"y":5.5},
{"x":-4.75,"y":4.25},{"x":-4.8,"y":4.25},{"x":-4.8,"y":3.45},{"x":-4.1,"y":3.85},{"x":-4.05,"y":3.8},{"x":-3.95,"y":3.7},{"x":-3.9,"y":3.5},{"x":-4.05,"y":3.2},{"x":-3.8,"y":3.4},{"x":-3.75,"y":3.05},{"x":-3.7,"y":5.15},{"x":-3.65,"y":5.05},{"x":-3.9,"y":4.8},{"x":-3.9,"y":4.6},{"x":-3.4,"y":4.5},{"x":-3.2,"y":5},{"x":-3.05,"y":5.1},{"x":-3.3,"y":4.8},{"x":-3.1,"y":4.7},
{"x":-2.7,"y":2.35},{"x":-2.4,"y":2.34},{"x":-2.2,"y":2.37},{"x":-2,"y":2.34},{"x":-1.85,"y":2.38},{"x":-1.7,"y":2.34},{"x":-1.55,"y":2.37},{"x":-1.4,"y":2.34},{"x":-1.25,"y":2.38},{"x":-1.1,"y":2.34},{"x":-0.95,"y":2.37},{"x":-0.8,"y":2.34},{"x":-0.65,"y":2.38},{"x":-0.5,"y":2.34},
{"x":-2.9,"y":2.53},{"x":-2.43,"y":2.47},{"x":-2.25,"y":2.52},{"x":-2.07,"y":2.46},{"x":-1.9,"y":2.54},{"x":-1.72,"y":2.47},{"x":-1.58,"y":2.53},{"x":-1.42,"y":2.46},{"x":-1.28,"y":2.52},{"x":-1.12,"y":2.47},{"x":-0.98,"y":2.54},{"x":-0.83,"y":2.46},{"x":-0.68,"y":2.53},{"x":-0.55,"y":2.47},{"x":-0.45,"y":2.52},
{"x":-2.6,"y":2.62},{"x":-2.3,"y":2.68},{"x":-2.1,"y":2.61},{"x":-1.95,"y":2.67},{"x":-1.78,"y":2.62},{"x":-1.6,"y":2.69},{"x":-1.45,"y":2.61},{"x":-1.3,"y":2.68},{"x":-1.15,"y":2.62},{"x":-1,"y":2.67},{"x":-0.85,"y":2.61},{"x":-0.7,"y":2.69},{"x":-0.55,"y":2.62},
{"x":-3,"y":2.83},{"x":-2.5,"y":2.77},{"x":-2.35,"y":2.84},{"x":-2.15,"y":2.76},{"x":-2,"y":2.83},{"x":-1.83,"y":2.77},{"x":-1.65,"y":2.84},{"x":-1.5,"y":2.76},{"x":-1.35,"y":2.82},{"x":-1.2,"y":2.77},{"x":-1.05,"y":2.84},{"x":-0.9,"y":2.76},{"x":-0.75,"y":2.83},{"x":-0.6,"y":2.77},{"x":-0.45,"y":2.84},
{"x":-3.1,"y":2.92},{"x":-2.7,"y":2.98},{"x":-2.4,"y":2.91},{"x":-2.2,"y":2.97},{"x":-1.9,"y":2.92},{"x":-1.7,"y":2.99},{"x":-1.52,"y":2.91},{"x":-1.37,"y":2.97},{"x":-1.22,"y":2.92},{"x":-1.08,"y":2.98},{"x":-0.92,"y":2.91},{"x":-0.78,"y":2.97},{"x":-0.62,"y":2.92},{"x":-0.5,"y":2.99},
{"x":-3.3,"y":3.13},{"x":-2.9,"y":3.07},{"x":-2.55,"y":3.12},{"x":-2.3,"y":3.06},{"x":-2.05,"y":3.14},{"x":-1.85,"y":3.07},{"x":-1.62,"y":3.12},{"x":-1.45,"y":3.06},{"x":-1.28,"y":3.13},{"x":-1.12,"y":3.07},{"x":-0.97,"y":3.14},{"x":-0.82,"y":3.06},{"x":-0.65,"y":3.12},{"x":-0.48,"y":3.07},
{"x":-3.4,"y":3.22},{"x":-3.1,"y":3.28},{"x":-2.6,"y":3.21},{"x":-2.4,"y":3.27},{"x":-2.15,"y":3.22},{"x":-1.95,"y":3.29},{"x":-1.75,"y":3.21},{"x":-1.55,"y":3.27},{"x":-1.33,"y":3.22},{"x":-1.18,"y":3.28},{"x":-1.02,"y":3.21},{"x":-0.87,"y":3.27},{"x":-0.7,"y":3.22},{"x":-0.5,"y":3.29},
{"x":-3.25,"y":3.43},{"x":-2.8,"y":3.37},{"x":-2.45,"y":3.42},{"x":-2.2,"y":3.36},{"x":-2,"y":3.44},{"x":-1.8,"y":3.37},{"x":-1.6,"y":3.42},{"x":-1.42,"y":3.36},{"x":-1.25,"y":3.43},{"x":-1.07,"y":3.37},{"x":-0.9,"y":3.44},{"x":-0.72,"y":3.36},{"x":-0.45,"y":3.42},
{"x":-3.5,"y":3.52},{"x":-3,"y":3.58},{"x":-2.6,"y":3.51},{"x":-2.35,"y":3.57},{"x":-2.1,"y":3.52},{"x":-1.9,"y":3.59},{"x":-1.68,"y":3.51},{"x":-1.48,"y":3.57},{"x":-1.3,"y":3.52},{"x":-1.12,"y":3.58},{"x":-0.95,"y":3.51},{"x":-0.78,"y":3.57},
{"x":-3.35,"y":3.73},{"x":-2.85,"y":3.67},{"x":-2.5,"y":3.72},{"x":-2.25,"y":3.66},{"x":-2,"y":3.74},{"x":-1.8,"y":3.67},{"x":-1.58,"y":3.72},{"x":-1.38,"y":3.66},{"x":-1.2,"y":3.73},{"x":-1,"y":3.67},{"x":-0.85,"y":3.74},
{"x":-3.55,"y":3.82},{"x":-3,"y":3.88},{"x":-2.65,"y":3.81},{"x":-2.4,"y":3.87},{"x":-2.15,"y":3.82},{"x":-1.9,"y":3.89},{"x":-1.65,"y":3.81},{"x":-1.45,"y":3.87},{"x":-1.25,"y":3.82},{"x":-1.05,"y":3.88},{"x":-0.9,"y":3.81},
{"x":-3.3,"y":4.03},{"x":-2.75,"y":3.97},{"x":-2.3,"y":4.02},{"x":-2.05,"y":3.96},{"x":-1.85,"y":4.04},{"x":-1.6,"y":3.97},{"x":-1.4,"y":4.02},{"x":-1.15,"y":3.96},{"x":-0.95,"y":4.03},
{"x":-3.6,"y":4.12},{"x":-3,"y":4.18},{"x":-2.5,"y":4.11},{"x":-2.2,"y":4.17},{"x":-1.95,"y":4.12},{"x":-1.7,"y":4.19},{"x":-1.5,"y":4.11},{"x":-1.25,"y":4.17},{"x":-0.5,"y":4.13},
{"x":-3.45,"y":4.33},{"x":-2.85,"y":4.27},{"x":-2.4,"y":4.32},{"x":-2.1,"y":4.26},{"x":-1.85,"y":4.34},{"x":-1.6,"y":4.27},{"x":-1.35,"y":4.32},{"x":-1.05,"y":4.26},
{"x":-3.2,"y":4.42},{"x":-2.65,"y":4.48},{"x":-2.25,"y":4.41},{"x":-2,"y":4.47},{"x":-1.75,"y":4.42},{"x":-1.45,"y":4.49},
{"x":-3.35,"y":4.63},{"x":-2.9,"y":4.57},{"x":-2.45,"y":4.62},{"x":-2.15,"y":4.56},{"x":-1.9,"y":4.64},{"x":-1.55,"y":4.57},{"x":-1.3,"y":4.62},{"x":-0.65,"y":4.65},{"x":-0.55,"y":4.65},
{"x":-3.15,"y":4.72},{"x":-2.7,"y":4.78},{"x":-2.35,"y":4.71},{"x":-2.05,"y":4.77},{"x":-1.75,"y":4.72},
{"x":-3.45,"y":4.93},{"x":-2.55,"y":4.87},{"x":-2.2,"y":4.92},{"x":-1.9,"y":4.86},{"x":-1.5,"y":4.94},
{"x":-3,"y":5.02},{"x":-2.4,"y":5.08},{"x":-2.05,"y":5.01},{"x":-1.7,"y":5.07},{"x":-1.55,"y":5.02},
{"x":-2.55,"y":5.23},{"x":-2.35,"y":5.17},{"x":-2.2,"y":5.22},{"x":-1.75,"y":5.16},{"x":-2.75,"y":5.37},{"x":-2.1,"y":5.33},{"x":-1.6,"y":5.38},{"x":-2.5,"y":5.52},{"x":-1.95,"y":5.47},{"x":-1.4,"y":5.53},
{"x":4.3,"y":8.45},{"x":3.65,"y":7.25},{"x":2.95,"y":6.5},{"x":4.3,"y":6.2},{"x":4.4,"y":6.25},{"x":4.75,"y":6.3},{"x":5.2,"y":6.2},{"x":3.65,"y":6.15},{"x":3.1,"y":6.1},{"x":2.1,"y":6},{"x":2.35,"y":5.8},{"x":3.3,"y":5.9},{"x":3.5,"y":5.9},{"x":3.5,"y":5.7},{"x":2.7,"y":5.7},{"x":4,"y":5.65},{"x":4.1,"y":5.5},{"x":4.7,"y":5.85},{"x":4.2,"y":5.8},{"x":1,"y":5.45},{"x":1.45,"y":5.5},{"x":7.75,"y":4.05},{"x":6.9,"y":2.85},{"x":7.45,"y":3.05},{"x":6.2,"y":3.3},{"x":6.35,"y":3.2},{"x":6.05,"y":3.25},{"x":6.15,"y":3.3},{"x":6.05,"y":3.95},{"x":5.9,"y":4.65},{"x":5.5,"y":3.3},{"x":5.5,"y":3.15},{"x":5.45,"y":2.85},{"x":5.4,"y":3.5},{"x":5.45,"y":4.55},{"x":5.4,"y":5.25},{"x":5.4,"y":5},{"x":5.1,"y":5.15},{"x":5,"y":5.2},{"x":4.75,"y":5.4},{"x":4.55,"y":5.4},{"x":4.85,"y":2.8},{"x":4.55,"y":2.85},
{"x":0.45,"y":2.35},{"x":0.6,"y":2.34},{"x":0.75,"y":2.37},{"x":0.9,"y":2.34},{"x":1.05,"y":2.38},{"x":1.2,"y":2.34},{"x":1.35,"y":2.37},{"x":1.5,"y":2.34},{"x":1.65,"y":2.38},{"x":1.8,"y":2.34},{"x":2,"y":2.37},{"x":2.6,"y":2.34},{"x":2.8,"y":2.38},{"x":3.3,"y":2.34},{"x":4.05,"y":2.37},{"x":4.2,"y":2.34},
{"x":0.4,"y":2.53},{"x":0.55,"y":2.47},{"x":0.7,"y":2.52},{"x":0.85,"y":2.46},{"x":1,"y":2.54},{"x":1.15,"y":2.47},{"x":1.3,"y":2.52},{"x":1.45,"y":2.46},{"x":1.6,"y":2.53},{"x":1.75,"y":2.47},{"x":1.9,"y":2.54},{"x":2.1,"y":2.46},{"x":2.5,"y":2.52},{"x":2.9,"y":2.47},{"x":3.5,"y":2.53},{"x":4.1,"y":2.46},{"x":4.3,"y":2.54},
{"x":0.5,"y":2.62},{"x":0.75,"y":2.68},{"x":0.95,"y":2.61},{"x":1.1,"y":2.67},{"x":1.25,"y":2.62},{"x":1.4,"y":2.69},{"x":1.55,"y":2.61},{"x":1.7,"y":2.67},{"x":1.85,"y":2.62},{"x":2,"y":2.68},{"x":2.2,"y":2.61},{"x":2.4,"y":2.67},{"x":2.7,"y":2.62},{"x":3.05,"y":2.69},{"x":3.4,"y":2.61},{"x":3.8,"y":2.67},
{"x":0.6,"y":2.83},{"x":0.85,"y":2.77},{"x":1,"y":2.82},{"x":1.2,"y":2.76},{"x":1.35,"y":2.84},{"x":1.5,"y":2.77},{"x":1.65,"y":2.82},{"x":1.8,"y":2.76},{"x":1.95,"y":2.83},{"x":2.15,"y":2.77},{"x":2.3,"y":2.84},{"x":2.6,"y":2.76},{"x":2.85,"y":2.82},{"x":3.2,"y":2.77},{"x":3.6,"y":2.83},{"x":4,"y":2.76},{"x":4.7,"y":3},
{"x":0.75,"y":2.92},{"x":0.95,"y":2.98},{"x":1.1,"y":2.91},{"x":1.3,"y":2.97},{"x":1.45,"y":2.92},{"x":1.6,"y":2.99},{"x":1.75,"y":2.91},{"x":1.9,"y":2.97},{"x":2.05,"y":2.92},{"x":2.25,"y":2.98},{"x":2.45,"y":2.91},{"x":2.7,"y":2.97},{"x":3,"y":2.92},{"x":3.3,"y":2.99},{"x":3.75,"y":2.91},{"x":4.15,"y":2.97},{"x":4.4,"y":2.92},
{"x":0.35,"y":3.13},{"x":0.9,"y":3.07},{"x":1.05,"y":3.12},{"x":1.2,"y":3.06},{"x":1.4,"y":3.14},{"x":1.55,"y":3.07},{"x":1.7,"y":3.12},{"x":1.85,"y":3.06},{"x":2,"y":3.13},{"x":2.15,"y":3.07},{"x":2.35,"y":3.14},{"x":2.55,"y":3.06},{"x":2.8,"y":3.12},{"x":3.1,"y":3.07},{"x":3.45,"y":3.13},{"x":3.7,"y":3.06},{"x":4.3,"y":3.14},{"x":4.8,"y":3.07},
{"x":0.7,"y":3.22},{"x":1,"y":3.28},{"x":1.15,"y":3.21},{"x":1.3,"y":3.27},{"x":1.5,"y":3.22},{"x":1.65,"y":3.29},{"x":1.8,"y":3.21},{"x":1.95,"y":3.27},{"x":2.1,"y":3.22},{"x":2.3,"y":3.28},{"x":2.5,"y":3.21},{"x":2.65,"y":3.27},{"x":2.95,"y":3.22},{"x":3.2,"y":3.29},{"x":3.55,"y":3.21},{"x":3.9,"y":3.27},{"x":4.25,"y":3.22},{"x":4.6,"y":3.28},{"x":5,"y":3.21},
{"x":0.85,"y":3.43},{"x":1.1,"y":3.37},{"x":1.35,"y":3.42},{"x":1.55,"y":3.36},{"x":1.7,"y":3.44},{"x":1.9,"y":3.37},{"x":2.05,"y":3.42},{"x":2.2,"y":3.36},{"x":2.4,"y":3.43},{"x":2.6,"y":3.37},{"x":2.8,"y":3.44},{"x":3.05,"y":3.36},{"x":3.3,"y":3.42},{"x":3.5,"y":3.37},{"x":3.8,"y":3.43},{"x":4.2,"y":3.36},{"x":4.5,"y":3.44},{"x":4.85,"y":3.37},
{"x":0.6,"y":3.52},{"x":1.25,"y":3.58},{"x":1.45,"y":3.51},{"x":1.6,"y":3.57},{"x":1.8,"y":3.52},{"x":2,"y":3.59},{"x":2.15,"y":3.51},{"x":2.35,"y":3.57},{"x":2.55,"y":3.52},{"x":2.75,"y":3.58},{"x":2.95,"y":3.51},{"x":3.15,"y":3.57},{"x":3.4,"y":3.52},{"x":3.65,"y":3.59},{"x":3.95,"y":3.51},{"x":4.35,"y":3.57},{"x":4.75,"y":3.52},{"x":5.15,"y":3.58},
{"x":1.35,"y":3.73},{"x":1.55,"y":3.67},{"x":1.75,"y":3.72},{"x":1.9,"y":3.66},{"x":2.1,"y":3.74},{"x":2.3,"y":3.67},{"x":2.5,"y":3.72},{"x":2.7,"y":3.66},{"x":2.9,"y":3.73},{"x":3.1,"y":3.67},{"x":3.3,"y":3.74},{"x":3.55,"y":3.66},{"x":3.85,"y":3.72},{"x":4.1,"y":3.67},{"x":4.4,"y":3.73},{"x":4.65,"y":3.66},{"x":5,"y":3.75},
{"x":1,"y":3.95},{"x":1.45,"y":3.82},{"x":1.65,"y":3.88},{"x":1.85,"y":3.81},{"x":2.05,"y":3.87},{"x":2.25,"y":3.82},{"x":2.45,"y":3.89},{"x":2.65,"y":3.81},{"x":2.85,"y":3.87},{"x":3.05,"y":3.82},{"x":3.25,"y":3.88},{"x":3.45,"y":3.81},{"x":3.7,"y":3.87},{"x":3.95,"y":3.82},{"x":4.2,"y":3.89},{"x":4.55,"y":3.81},
{"x":1.6,"y":4.03},{"x":1.8,"y":3.97},{"x":2,"y":4.02},{"x":2.2,"y":3.96},{"x":2.4,"y":4.04},{"x":2.6,"y":3.97},{"x":2.8,"y":4.02},{"x":3,"y":3.96},{"x":3.2,"y":4.03},{"x":3.4,"y":3.97},{"x":3.65,"y":4.04},{"x":3.85,"y":3.96},{"x":4.05,"y":4.02},{"x":4.3,"y":3.97},{"x":4.75,"y":4.03},
{"x":1.3,"y":4.12},{"x":1.5,"y":4.18},{"x":1.75,"y":4.11},{"x":1.95,"y":4.17},{"x":2.15,"y":4.12},{"x":2.35,"y":4.19},{"x":2.55,"y":4.11},{"x":2.75,"y":4.17},{"x":2.95,"y":4.12},{"x":3.15,"y":4.18},{"x":3.35,"y":4.11},{"x":3.6,"y":4.17},{"x":3.9,"y":4.12},{"x":4.15,"y":4.19},{"x":4.6,"y":4.11},{"x":4.9,"y":4.17},{"x":5.45,"y":4.15},
{"x":1.65,"y":4.33},{"x":1.9,"y":4.27},{"x":2.1,"y":4.32},{"x":2.3,"y":4.26},{"x":2.5,"y":4.34},{"x":2.7,"y":4.27},{"x":2.9,"y":4.32},{"x":3.1,"y":4.26},{"x":3.3,"y":4.33},{"x":3.5,"y":4.27},{"x":3.75,"y":4.34},{"x":4,"y":4.26},{"x":4.35,"y":4.32},{"x":4.8,"y":4.27},{"x":5.1,"y":4.33},
{"x":1.05,"y":4.4},{"x":1.55,"y":4.42},{"x":1.8,"y":4.48},{"x":2.05,"y":4.41},{"x":2.25,"y":4.47},{"x":2.45,"y":4.42},{"x":2.65,"y":4.49},{"x":2.85,"y":4.41},{"x":3.05,"y":4.47},{"x":3.3,"y":4.42},{"x":3.55,"y":4.48},{"x":3.8,"y":4.41},{"x":4.1,"y":4.47},{"x":4.45,"y":4.42},{"x":4.7,"y":4.49},
{"x":1.45,"y":4.63},{"x":1.7,"y":4.57},{"x":1.95,"y":4.62},{"x":2.2,"y":4.56},{"x":2.4,"y":4.64},{"x":2.6,"y":4.57},{"x":2.8,"y":4.62},{"x":3,"y":4.56},{"x":3.25,"y":4.63},{"x":3.45,"y":4.57},{"x":3.7,"y":4.64},{"x":3.95,"y":4.56},{"x":4.25,"y":4.62},{"x":4.55,"y":4.57},{"x":5,"y":4.63},
{"x":1.55,"y":4.72},{"x":1.9,"y":4.78},{"x":2.15,"y":4.71},{"x":2.4,"y":4.77},{"x":2.65,"y":4.72},{"x":2.85,"y":4.79},{"x":3.1,"y":4.71},{"x":3.35,"y":4.77},{"x":3.6,"y":4.72},{"x":3.9,"y":4.78},{"x":4.15,"y":4.71},{"x":4.4,"y":4.77},
{"x":1.4,"y":4.93},{"x":2,"y":4.87},{"x":2.3,"y":4.92},{"x":2.55,"y":4.86},{"x":2.8,"y":4.94},{"x":3.05,"y":4.87},{"x":3.3,"y":4.92},{"x":3.55,"y":4.86},{"x":3.75,"y":4.93},{"x":4.05,"y":4.87},{"x":4.35,"y":4.94},
{"x":1.5,"y":5.02},{"x":2.2,"y":5.08},{"x":2.5,"y":5.01},{"x":2.75,"y":5.07},{"x":3,"y":5.02},{"x":3.2,"y":5.09},{"x":3.45,"y":5.01},{"x":3.7,"y":5.07},{"x":3.95,"y":5.02},
{"x":1.7,"y":5.23},{"x":2.05,"y":5.17},{"x":2.45,"y":5.22},{"x":2.7,"y":5.16},{"x":2.95,"y":5.24},{"x":3.5,"y":5.17},{"x":3.9,"y":5.22},{"x":4.2,"y":5.16},{"x":2.6,"y":5.33},{"x":2.8,"y":5.38},{"x":3.4,"y":5.32},{"x":4.3,"y":5.37}]
},
"layer":[
{"layer":[
{"data":{"name":"heat"},"mark":{"type":"rect","strokeWidth":0.5},"encoding":{
"x":{"field":"s","type":"nominal","sort":["R19_1","R19_2","R19_3","T625_2","T625_1","T625_3"],"scale":{"range":[38,294],"paddingInner":0,"paddingOuter":0},"axis":{"orient":"bottom","offset":-358,"domain":false,"ticks":false,"title":null,"labelAngle":0,"labelFontSize":9,"labelColor":"#333","labelPadding":6}},
"y":{"field":"r","type":"ordinal","scale":{"range":[12.3,225],"paddingInner":0,"paddingOuter":0},"axis":null},
"color":{"field":"v","type":"quantitative","scale":{"domain":[5,10,17,23,30],"range":["#e4e2f4","#cfcdea","#a3a3d8","#7a7cc8","#4a5eb8"]},"legend":null},
"stroke":{"field":"v","type":"quantitative","scale":{"domain":[5,10,17,23,30],"range":["#e4e2f4","#cfcdea","#a3a3d8","#7a7cc8","#4a5eb8"]},"legend":null}}}
]},
{"layer":[
{"data":{"name":"bar"},"mark":{"type":"rect","strokeWidth":0.5},"encoding":{
"x":{"datum":0,"type":"quantitative","scale":{"domain":[0,1],"range":[300,309.3]},"axis":null},"x2":{"datum":1},
"y":{"field":"v","type":"quantitative","scale":{"domain":[5,30],"range":[207,41]},"axis":null},"y2":{"field":"w"},
"color":{"field":"v","type":"quantitative","scale":{"domain":[5,10,17,23,30],"range":["#ffffff","#d6d4ee","#9a9ad4","#6668bd","#2f52ab"]},"legend":null},
"stroke":{"field":"v","type":"quantitative","scale":{"domain":[5,10,17,23,30],"range":["#ffffff","#d6d4ee","#9a9ad4","#6668bd","#2f52ab"]},"legend":null}}},
{"data":{"values":[{"t":"30","v":31.05},{"t":"5","v":2.9}]},"mark":{"type":"text","fontSize":9.5,"fill":"#333"},"encoding":{
"x":{"datum":0.5,"type":"quantitative","scale":{"domain":[0,1],"range":[300,309.3]},"axis":null},
"y":{"field":"v","type":"quantitative","scale":{"domain":[5,30],"range":[207,41]},"axis":null},"text":{"field":"t"}}}
]},
{"layer":[
{"data":{"values":[{"g":1},{"g":2},{"g":3},{"g":4},{"g":5},{"g":6},{"g":7},{"g":8}]},"mark":{"type":"rule","stroke":"#e2e2e2","strokeWidth":1},"encoding":{
"x":{"datum":-5,"type":"quantitative","scale":{"domain":[-5,8],"range":[430,664.3]},"axis":{"orient":"bottom","offset":-366,"values":[-5,-4,-3,-2,-1,0,1,2,3,4,5,6,7,8],"format":"d","labelExpr":"replace(datum.label,'−','-')","domain":false,"ticks":false,"grid":false,"title":"log2 fold change","titleFontSize":12,"titleFontWeight":"normal","titleColor":"#444","titlePadding":8,"labelFontSize":10,"labelColor":"#555","labelPadding":7}},"x2":{"datum":8},
"y":{"field":"g","type":"quantitative","scale":{"domain":[0,9],"range":[217.3,16.7]},"axis":{"orient":"left","offset":-430,"values":[0,1,2,3,4,5,6,7,8,9],"format":"d","domain":false,"ticks":false,"grid":false,"title":"–log(t-test p-value)","titleFontSize":12,"titleFontWeight":"normal","titleColor":"#444","titlePadding":12,"labelFontSize":10,"labelColor":"#555","labelPadding":7}}}},
{"data":{"name":"gray"},"mark":{"type":"circle","size":11,"fill":"#a6a6a6","opacity":1},"encoding":{"x":{"field":"x","type":"quantitative","scale":{"domain":[-5,8],"range":[430,664.3]}},"y":{"field":"y","type":"quantitative","scale":{"domain":[0,9],"range":[217.3,16.7]}}}},
{"data":{"name":"black"},"mark":{"type":"circle","size":10,"fill":"#000","opacity":1},"encoding":{"x":{"field":"x","type":"quantitative","scale":{"domain":[-5,8],"range":[430,664.3]}},"y":{"field":"y","type":"quantitative","scale":{"domain":[0,9],"range":[217.3,16.7]}}}},
{"data":{"values":[{"a":-5,"b":8,"c":0,"d":9}]},"mark":{"type":"rect","fill":null,"stroke":"#111","strokeWidth":1.6},"encoding":{"x":{"field":"a","type":"quantitative","scale":{"domain":[-5,8],"range":[430,664.3]}},"x2":{"field":"b"},"y":{"field":"c","type":"quantitative","scale":{"domain":[0,9],"range":[217.3,16.7]}},"y2":{"field":"d"}}}
]},
{"layer":[
{"data":{"name":"upLead"},"mark":{"type":"rule","stroke":"#444","strokeWidth":0.8},"encoding":{"x":{"field":"a","type":"quantitative","scale":{"domain":[-1.9,1.9],"range":[0,380]},"axis":null},"x2":{"field":"b"},"y":{"field":"c","type":"quantitative","scale":{"domain":[-1.6,1.6],"range":[573,253]},"axis":null},"y2":{"field":"d"}}},
{"data":{"name":"up"},"mark":{"type":"arc","outerRadius":101,"stroke":"#fff","strokeWidth":1.5},"encoding":{
"x":{"datum":0,"type":"quantitative","scale":{"domain":[-1.9,1.9],"range":[0,380]},"axis":null},"y":{"datum":0,"type":"quantitative","scale":{"domain":[-1.6,1.6],"range":[573,253]},"axis":null},
"theta":{"field":"p","type":"quantitative","stack":true},"order":{"field":"o"},
"color":{"field":"n","type":"nominal","legend":null,"scale":{"domain":["Cell membrane","Cytoplasm","Endoplasmic reticulum","Extracellular","Golgi apparatus","Lysosome/Vacuole","Mitochondrion","Nucleus","Peroxisome","Plastid"],"range":["#2a9bd8","#fd7f2a","#a5a5a5","#fdbf00","#2f6cb8","#4da936","#045a94","#bc4d17","#636363","#a3711d"]}}}},
{"data":{"name":"upBox"},"mark":{"type":"rect","fill":"#fff","stroke":"#444","strokeWidth":0.8},"encoding":{"x":{"field":"a","type":"quantitative","scale":{"domain":[-1.9,1.9],"range":[0,380]},"axis":null},"x2":{"field":"b"},"y":{"field":"c","type":"quantitative","scale":{"domain":[-1.6,1.6],"range":[573,253]},"axis":null},"y2":{"field":"d"}}},
{"data":{"name":"upBox"},"transform":[{"calculate":"(datum.a+datum.b)/2","as":"mx"},{"calculate":"(datum.c+datum.d)/2+(length(split(datum.t,'\\n'))-1)*0.05","as":"my"}],"mark":{"type":"text","fontSize":8.4,"fill":"#333","lineBreak":"\n","lineHeight":9.5,"baseline":"middle"},"encoding":{"x":{"field":"mx","type":"quantitative","scale":{"domain":[-1.9,1.9],"range":[0,380]},"axis":null},"y":{"field":"my","type":"quantitative","scale":{"domain":[-1.6,1.6],"range":[573,253]},"axis":null},"text":{"field":"t"}}},
{"data":{"values":[{"t":"Localization of T625 proteins with\nsignifcantly increased abundance","a":-0.117,"b":-1.437}]},"mark":{"type":"text","fontSize":12,"fill":"#333","lineBreak":"\n","lineHeight":14.5,"baseline":"middle"},"encoding":{"x":{"field":"a","type":"quantitative","scale":{"domain":[-1.9,1.9],"range":[0,380]},"axis":null},"y":{"field":"b","type":"quantitative","scale":{"domain":[-1.6,1.6],"range":[573,253]},"axis":null},"text":{"field":"t"}}}
]},
{"layer":[
{"data":{"name":"downLead"},"mark":{"type":"rule","stroke":"#444","strokeWidth":0.8},"encoding":{"x":{"field":"a","type":"quantitative","scale":{"domain":[-1.9,1.5],"range":[355,695]},"axis":null},"x2":{"field":"b"},"y":{"field":"c","type":"quantitative","scale":{"domain":[-1.6,1.6],"range":[575,255]},"axis":null},"y2":{"field":"d"}}},
{"data":{"name":"down"},"mark":{"type":"arc","outerRadius":101,"stroke":"#fff","strokeWidth":1.5},"encoding":{
"x":{"datum":0,"type":"quantitative","scale":{"domain":[-1.9,1.5],"range":[355,695]},"axis":null},"y":{"datum":0,"type":"quantitative","scale":{"domain":[-1.6,1.6],"range":[575,255]},"axis":null},
"theta":{"field":"p","type":"quantitative","stack":true},"order":{"field":"o"},
"color":{"field":"n","type":"nominal","legend":null,"scale":{"domain":["Cell membrane","Cytoplasm","Endoplasmic reticulum","Extracellular","Golgi apparatus","Lysosome/Vacuole","Mitochondrion","Nucleus","Peroxisome","Plastid"],"range":["#2a9bd8","#fd7f2a","#a5a5a5","#fdbf00","#2f6cb8","#4da936","#045a94","#bc4d17","#636363","#a3711d"]}}}},
{"data":{"name":"downBox"},"mark":{"type":"rect","fill":"#fff","stroke":"#444","strokeWidth":0.8},"encoding":{"x":{"field":"a","type":"quantitative","scale":{"domain":[-1.9,1.5],"range":[355,695]},"axis":null},"x2":{"field":"b"},"y":{"field":"c","type":"quantitative","scale":{"domain":[-1.6,1.6],"range":[575,255]},"axis":null},"y2":{"field":"d"}}},
{"data":{"name":"downBox"},"transform":[{"calculate":"(datum.a+datum.b)/2","as":"mx"},{"calculate":"(datum.c+datum.d)/2+(length(split(datum.t,'\\n'))-1)*0.05","as":"my"}],"mark":{"type":"text","fontSize":8.4,"fill":"#333","lineBreak":"\n","lineHeight":9.5,"baseline":"middle"},"encoding":{"x":{"field":"mx","type":"quantitative","scale":{"domain":[-1.9,1.5],"range":[355,695]},"axis":null},"y":{"field":"my","type":"quantitative","scale":{"domain":[-1.6,1.6],"range":[575,255]},"axis":null},"text":{"field":"t"}}},
{"data":{"values":[{"t":"Localization of T625 proteins with\nsignifcantly decreased abundance","a":0.067,"b":-1.427}]},"mark":{"type":"text","fontSize":12,"fill":"#333","lineBreak":"\n","lineHeight":14.5,"baseline":"middle"},"encoding":{"x":{"field":"a","type":"quantitative","scale":{"domain":[-1.9,1.5],"range":[355,695]},"axis":null},"y":{"field":"b","type":"quantitative","scale":{"domain":[-1.6,1.6],"range":[575,255]},"axis":null},"text":{"field":"t"}}}
]},
{"data":{"values":[{"t":"A","x":0.0144,"y":0.0154},{"t":"B","x":0.523,"y":0.0154},{"t":"C","x":0.0115,"y":0.472}]},"mark":{"type":"text","fontSize":17,"fill":"#111"},"encoding":{"x":{"field":"x","type":"quantitative","scale":{"domain":[0,1],"range":[0,696]},"axis":null},"y":{"field":"y","type":"quantitative","scale":{"domain":[0,1],"range":[0,583]},"axis":null},"text":{"field":"t"}}}
]}
